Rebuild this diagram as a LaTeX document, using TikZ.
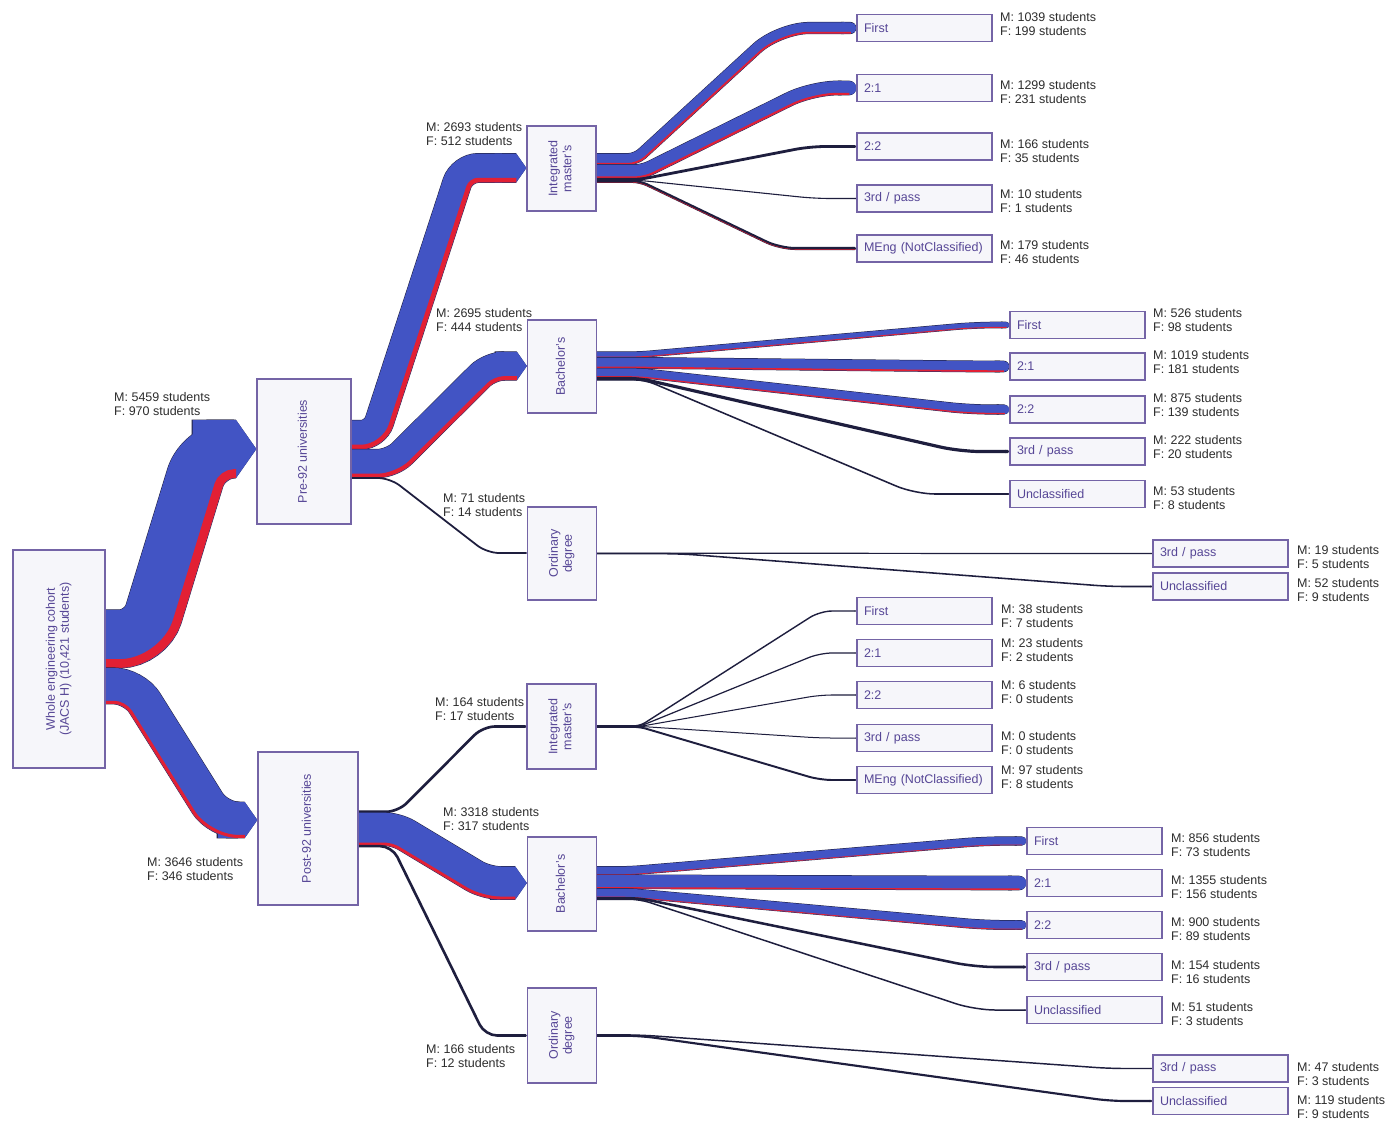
\documentclass[tikz,border=0pt]{standalone}
\usepackage{fontspec}
\setmainfont{Liberation Sans}
\usepackage{graphicx}
\usetikzlibrary{arrows.meta,backgrounds}

\definecolor{mblue}{RGB}{66,84,196}
\definecolor{fred}{RGB}{226,32,52}
\definecolor{edgecol}{RGB}{30,30,62}
\definecolor{boxline}{RGB}{116,100,166}
\definecolor{boxfill}{RGB}{246,246,250}
\definecolor{boxtext}{RGB}{86,70,150}
\definecolor{lbltext}{RGB}{45,45,45}

\newcommand{\fs}{\fontsize{12.5}{14}\selectfont}
\newcommand{\mf}[2]{M: #1 students\\F: #2 students}
\newcommand{\vtext}[1]{\rotatebox{90}{\begin{tabular}{@{}c@{}}#1\end{tabular}}}
\def\pxs{0.009}% band width per student
\newdimen\ftmp

\newcommand{\bends}[2]{\def\rca{#1}\def\rcb{#2}}
\newcommand{\chevends}{\tikzset{flow end/.style={-{Triangle Cap[length=0pt .35]}}}\def\capf{0.35}}
\newcommand{\roundends}{\tikzset{flow end/.style={-{Round Cap}}}\def\capf{0.5}}

% points of one band, #1 = distance below the centre line
\newcommand{\bandpts}[1]{%
  \pgfmathsetmacro\cutA{max(\rca+(#1)*(\ftau),0.5)}%
  \pgfmathsetmacro\cutB{max(\rcb-(#1)*(\ftau),0.5)}%
  \pgfmathsetmacro\xA{\fxa+(#1)*(\ftau)}%
  \pgfmathsetmacro\xB{\fxb+(#1)*(\ftau)}%
  \pgfmathsetmacro\yA{\fys+#1}%
  \pgfmathsetmacro\yB{\fye+#1}%
}
% one band: [style]{from}{offset}{x of end}
\newcommand{\band}[4][]{%
  \bandpts{#3}%
  \draw[#1] (#2.east |- 0,\yA) -- ({\xA-\cutA},\yA)
    .. controls ({\xA-0.45*\cutA},\yA) and ({\xA+0.45*\cutA*(\fux)},{\yA+0.45*\cutA*(\fuy)})
    .. ({\xA+\cutA*(\fux)},{\yA+\cutA*(\fuy)})
    -- ({\xB-\cutB*(\fux)},{\yB-\cutB*(\fuy)})
    .. controls ({\xB-0.45*\cutB*(\fux)},{\yB-0.45*\cutB*(\fuy)}) and ({\xB+0.45*\cutB},\yB)
    .. ({\xB+\cutB},\yB) -- (#4,\yB);%
}
% from, y out, bend 1, bend 2, y in, to, men, women
\newcommand{\flow}[8]{%
  \pgfmathsetmacro\fys{#2}\pgfmathsetmacro\fye{#5}%
  \pgfmathsetmacro\fxa{#3}\pgfmathsetmacro\fxb{#4}%
  \pgfmathsetmacro\fT{(#7+#8)*\pxs}%
  \pgfmathsetmacro\fTo{\fT+1.0}%
  \pgfmathsetmacro\fF{#8*\pxs}%
  \pgfmathsetmacro\fd{#7*\pxs/2}%
  \pgfmathsetmacro\fang{atan((#2-#5)/(#4-#3))}%
  \pgfmathsetmacro\ftau{tan(\fang/2)}%
  \pgfmathsetmacro\fux{cos(\fang)}%
  \pgfmathsetmacro\fuy{-sin(\fang)}%
  \pgfextractx{\ftmp}{\pgfpointanchor{#6}{west}}%
  \pgfmathsetmacro\fxe{\ftmp}%
  \pgfmathsetmacro\fxr{\fxe-\capf*\fT}%
  \band[flowedge, line width=\fTo pt, flow end]{#1}{0}{\fxe}%
  \ifdim\fT pt>2.5pt \band[mband, line width=\fT pt, flow end]{#1}{0}{\fxe}\fi
  \ifdim\fF pt>0.4pt \band[fband, line width=\fF pt]{#1}{\fd}{\fxr}\fi
}

\begin{document}
\begin{tikzpicture}[x=1pt,y=-1pt,
  box/.style={draw=boxline,fill=boxfill,line width=1.3pt,text=boxtext,font=\fs},
  midbox/.style={box,align=center},
  stage/.style={midbox,minimum width=69pt},
  leaf/.style={box,minimum height=27pt,text width=121pt,inner xsep=7pt,align=left},
  lbl/.style={font=\fs,text=lbltext,align=left,anchor=west,inner sep=0pt},
  flowedge/.style={draw=edgecol},
  mband/.style={draw=mblue},
  fband/.style={draw=fred}]
\useasboundingbox (0,0) rectangle (1392,1122);

% boxes
\node[midbox,minimum width=92pt,minimum height=218pt] (root) at (59,659) {\vtext{Whole engineering cohort\\(JACS H) (10,421 students)}};
\node[midbox,minimum width=94pt,minimum height=145pt] (pre) at (304,451.5) {\vtext{Pre-92 universities}};
\node[midbox,minimum width=100pt,minimum height=153pt] (post) at (308,828.5) {\vtext{Post-92 universities}};

\node[stage,minimum height=85pt] (imA) at (561.5,168.5) {\vtext{Integrated\\master's}};
\node[stage,minimum height=93pt] (baA) at (562,366.5) {\vtext{Bachelor's}};
\node[stage,minimum height=93pt] (orA) at (562,553.5) {\vtext{Ordinary\\degree}};
\node[stage,minimum height=85pt] (imB) at (561.5,726.5) {\vtext{Integrated\\master's}};
\node[stage,minimum height=94pt] (baB) at (562,884) {\vtext{Bachelor's}};
\node[stage,minimum height=95pt] (orB) at (562,1035.5) {\vtext{Ordinary\\degree}};

\node[leaf] (imA1) at (924.5,28) {First};
\node[leaf] (imA2) at (924.5,88) {2:1};
\node[leaf] (imA3) at (924.5,146.5) {2:2};
\node[leaf] (imA4) at (924.5,198.5) {3rd / pass};
\node[leaf] (imA5) at (924.5,248.5) {MEng (NotClassified)};

\node[leaf] (baA1) at (1077.5,325) {First};
\node[leaf] (baA2) at (1077.5,366.5) {2:1};
\node[leaf] (baA3) at (1077.5,409.5) {2:2};
\node[leaf] (baA4) at (1077.5,451.5) {3rd / pass};
\node[leaf] (baA5) at (1077.5,494) {Unclassified};

\node[leaf] (orA1) at (1220.5,553.5) {3rd / pass};
\node[leaf] (orA2) at (1220.5,586.5) {Unclassified};

\node[leaf] (imB1) at (924.5,611) {First};
\node[leaf] (imB2) at (924.5,653) {2:1};
\node[leaf] (imB3) at (924.5,695) {2:2};
\node[leaf] (imB4) at (924.5,738) {3rd / pass};
\node[leaf] (imB5) at (924.5,780) {MEng (NotClassified)};

\node[leaf] (baB1) at (1094.5,841) {First};
\node[leaf] (baB2) at (1094.5,883) {2:1};
\node[leaf] (baB3) at (1094.5,925) {2:2};
\node[leaf] (baB4) at (1094.5,967) {3rd / pass};
\node[leaf] (baB5) at (1094.5,1010) {Unclassified};

\node[leaf] (orB1) at (1220.5,1068.5) {3rd / pass};
\node[leaf] (orB2) at (1220.5,1101) {Unclassified};

% flows (men blue, women red)
\begin{scope}[on background layer]
\fill[white] (0,0) rectangle (1392,1122);
\chevends
\bends{26}{30}\flow{root}{638.9}{146}{204}{449}{pre}{5459}{970}
\bends{20}{20}\flow{root}{685.9}{134}{218}{820}{post}{3646}{346}
\bends{14}{16}\flow{pre}{434.9}{375}{462}{168}{imA}{2693}{512}
\bends{14}{14}\flow{pre}{463.5}{392}{490}{366}{baA}{2695}{444}
\bends{12}{12}\flow{pre}{478}{390}{487}{553}{orA}{71}{14}
\flow{post}{811.8}{398}{483}{726.5}{imB}{164}{17}
\bends{12}{14}\flow{post}{829}{396}{486}{883}{baB}{3318}{317}
\bends{12}{12}\flow{post}{846.1}{392}{485}{1035.5}{orB}{166}{12}
\roundends
% integrated masters, pre-92
\bends{8}{30}\flow{imA}{159.2}{636}{779}{28}{imA1}{1039}{199}
\bends{8}{25}\flow{imA}{171.6}{643}{812}{88}{imA2}{1299}{231}
\bends{8}{15}\flow{imA}{179.4}{640}{810}{146.5}{imA3}{166}{35}
\flow{imA}{180.4}{640}{815}{198.5}{imA4}{10}{1}
\flow{imA}{181.4}{640}{780}{248.5}{imA5}{179}{46}
% bachelor's, pre-92
\bends{10}{20}\flow{baA}{354.7}{640}{975}{325}{baA1}{526}{98}
\flow{baA}{362.9}{640}{980}{366.5}{baA2}{1019}{181}
\flow{baA}{372.9}{640}{970}{409.5}{baA3}{875}{139}
\flow{baA}{378.5}{640}{960}{451.5}{baA4}{222}{20}
\flow{baA}{379.9}{645}{915}{494}{baA5}{53}{8}
% ordinary degree, pre-92
\bends{15}{15}\flow{orA}{553.2}{640}{1100}{553.5}{orA1}{19}{5}
\flow{orA}{553.7}{680}{1110}{586.5}{orA2}{52}{9}
% integrated masters, post-92
\bends{6}{12}\flow{imB}{725.9}{640}{820}{611}{imB1}{38}{7}
\flow{imB}{726.2}{640}{820}{653}{imB2}{23}{2}
\flow{imB}{726.4}{640}{820}{695}{imB3}{6}{0}
\flow{imB}{726.4}{640}{820}{738}{imB4}{0}{0}
\flow{imB}{726.9}{640}{820}{780}{imB5}{97}{8}
% bachelor's, post-92
\bends{10}{20}\flow{baB}{870.8}{630}{985}{841}{baB1}{856}{73}
\flow{baB}{881.8}{630}{990}{883}{baB2}{1355}{156}
\flow{baB}{893}{630}{985}{925}{baB3}{900}{89}
\flow{baB}{898.3}{640}{975}{967}{baB4}{154}{16}
\flow{baB}{899.3}{640}{975}{1010}{baB5}{51}{3}
% ordinary degree, post-92
\bends{15}{15}\flow{orB}{1034.9}{640}{1110}{1068.5}{orB1}{47}{3}
\flow{orB}{1035.7}{640}{1110}{1101}{orB2}{119}{9}
\end{scope}

% counts
\node[lbl] (n-pre) at (114,404) {\mf{5459}{970}};
\node[lbl] (n-post) at (147,869) {\mf{3646}{346}};
\node[lbl] (n-imA) at (426,134) {\mf{2693}{512}};
\node[lbl] (n-baA) at (436,320) {\mf{2695}{444}};
\node[lbl] (n-orA) at (443,505) {\mf{71}{14}};
\node[lbl] (n-imB) at (435,709) {\mf{164}{17}};
\node[lbl] (n-baB) at (443,819) {\mf{3318}{317}};
\node[lbl] (n-orB) at (426,1056) {\mf{166}{12}};

\node[lbl] (n-imA1) at (1000,24) {\mf{1039}{199}};
\node[lbl] (n-imA2) at (1000,92) {\mf{1299}{231}};
\node[lbl] (n-imA3) at (1000,151) {\mf{166}{35}};
\node[lbl] (n-imA4) at (1000,201) {\mf{10}{1}};
\node[lbl] (n-imA5) at (1000,252) {\mf{179}{46}};

\node[lbl] (n-baA1) at (1153,320) {\mf{526}{98}};
\node[lbl] (n-baA2) at (1153,362) {\mf{1019}{181}};
\node[lbl] (n-baA3) at (1153,405) {\mf{875}{139}};
\node[lbl] (n-baA4) at (1153,447) {\mf{222}{20}};
\node[lbl] (n-baA5) at (1153,498) {\mf{53}{8}};

\node[lbl] (n-orA1) at (1297,557) {\mf{19}{5}};
\node[lbl] (n-orA2) at (1297,590.5) {\mf{52}{9}};

\node[lbl] (n-imB1) at (1001,616) {\mf{38}{7}};
\node[lbl] (n-imB2) at (1001,650) {\mf{23}{2}};
\node[lbl] (n-imB3) at (1001,692) {\mf{6}{0}};
\node[lbl] (n-imB4) at (1001,743) {\mf{0}{0}};
\node[lbl] (n-imB5) at (1001,777) {\mf{97}{8}};

\node[lbl] (n-baB1) at (1171,845) {\mf{856}{73}};
\node[lbl] (n-baB2) at (1171,887) {\mf{1355}{156}};
\node[lbl] (n-baB3) at (1171,929) {\mf{900}{89}};
\node[lbl] (n-baB4) at (1171,972) {\mf{154}{16}};
\node[lbl] (n-baB5) at (1171,1014) {\mf{51}{3}};

\node[lbl] (n-orB1) at (1297,1074) {\mf{47}{3}};
\node[lbl] (n-orB2) at (1297,1107) {\mf{119}{9}};
\end{tikzpicture}
\end{document}
